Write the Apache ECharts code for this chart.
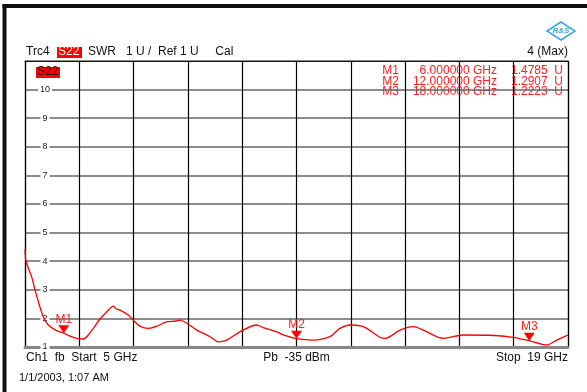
<!DOCTYPE html>
<html><head><meta charset="utf-8">
<script src="https://cdn.jsdelivr.net/npm/echarts@6/dist/echarts.min.js"></script>
<style>html,body{margin:0;padding:0;background:#fff}#c{width:587px;height:392px}</style>
</head><body><div id="c"></div>
<script>
// Trace: frequency (GHz) and SWR (U)
var freqs = [5.00,5.03,5.17,5.26,5.37,5.47,5.60,5.80,6.00,6.16,6.33,6.50,6.68,6.93,7.11,7.28,7.35,7.45,7.66,7.79,7.96,8.18,8.40,8.65,8.87,9.00,9.17,9.43,9.77,9.98,10.20,10.54,10.97,11.14,11.49,11.66,12.00,12.43,12.86,13.12,13.38,13.68,13.81,14.15,14.28,14.67,15.01,15.27,15.78,16.30,16.99,17.59,18.00,18.45,18.71,19.00];
var swr   = [4.42,3.98,3.46,2.99,2.47,2.06,1.77,1.58,1.48,1.38,1.30,1.28,1.50,1.97,2.23,2.43,2.33,2.29,2.12,1.94,1.73,1.65,1.73,1.88,1.90,1.94,1.83,1.59,1.36,1.18,1.24,1.53,1.77,1.68,1.53,1.42,1.29,1.24,1.36,1.65,1.77,1.73,1.65,1.34,1.30,1.59,1.71,1.59,1.30,1.42,1.41,1.34,1.22,1.07,1.24,1.42];
var markerNames  = ['M1','M2','M3'];
var markerFreqs  = [6, 12, 18];
var markerValues = [1.4785, 1.2907, 1.2223];
var xStart = 5, xStop = 19;
var yMin = 1, yMax = 11;
var yTickLabels = ['1','2','3','4','5','6','7','8','9','10'];

var data = freqs.map(function(f,i){return [f, swr[i]];});
var F = 'Liberation Sans, Arial, sans-serif';
var RED = '#ff2020';

var chart = echarts.init(document.getElementById('c'));
var graphics = [
  {type:'rect', shape:{x:2.5,y:4,width:4,height:388}, style:{fill:'#111'}},
  {type:'rect', shape:{x:2.5,y:4,width:585,height:4}, style:{fill:'#111'}},
  {type:'text', left:26, top:46, style:{text:'Trc4', font:'12px '+F, fill:'#111'}},
  {type:'rect', shape:{x:57,y:47,width:25,height:11}, style:{fill:'#ff0000'}},
  {type:'text', left:58, top:46, style:{text:'S22', font:'12px '+F, fill:'#fff'}},
  {type:'text', left:88, top:46, style:{text:'SWR   1 U /  Ref 1 U     Cal', font:'12px '+F, fill:'#111'}},
  {type:'text', right:19, top:46, style:{text:'4 (Max)', font:'12px '+F, fill:'#111'}},
  {type:'rect', shape:{x:36,y:67,width:24,height:11}, style:{fill:'#ff0000'}},
  {type:'text', left:37, top:66, style:{text:'S22', font:'12px '+F, fill:'#300'}},
  {type:'text', left:26, top:352, style:{text:'Ch1  fb  Start  5 GHz', font:'12px '+F, fill:'#111'}},
  {type:'text', x:296.5, y:352, style:{text:'Pb  -35 dBm', font:'12px '+F, fill:'#111', textAlign:'center'}},
  {type:'text', right:19, top:352, style:{text:'Stop  19 GHz', font:'12px '+F, fill:'#111'}},
  {type:'text', left:19, top:372, style:{text:'1/1/2003, 1:07 AM', font:'11px '+F, fill:'#111'}},
  {type:'polygon', shape:{points:[[547,31],[561,22],[575,31],[561,40]]}, style:{fill:'#fff', stroke:'#3aa6e0', lineWidth:1.5}},
  {type:'text', x:561, y:31, style:{text:'R&S', font:'italic bold 8px '+F, fill:'#3aa6e0', textAlign:'center', textVerticalAlign:'middle'}}
];
markerNames.forEach(function(n,i){
  var y = 65 + i*10.5;
  graphics.push({type:'text', x:399, y:y, style:{text:n, font:'12px '+F, fill:RED, textAlign:'right'}});
  graphics.push({type:'text', x:497, y:y, style:{text:markerFreqs[i].toFixed(6)+' GHz', font:'12px '+F, fill:RED, textAlign:'right'}});
  graphics.push({type:'text', x:563, y:y, style:{text:markerValues[i].toFixed(4)+'  U', font:'12px '+F, fill:RED, textAlign:'right'}});
});

chart.setOption({
  animation:false,
  backgroundColor:'#fff',
  grid:{left:25, right:19, top:61, bottom:45, containLabel:false},
  xAxis:[
    {type:'value', min:xStart, max:xStop, show:false},
    {type:'value', min:0, max:10, interval:1, position:'bottom',
     axisLine:{show:true, onZero:false, lineStyle:{color:'#888', width:3, type:[1,1]}},
     axisTick:{show:false}, axisLabel:{show:false},
     splitLine:{show:true, lineStyle:{color:'#000', width:1.2}}},
    {type:'value', min:0, max:10, interval:1, position:'top',
     axisLine:{show:true, onZero:false, lineStyle:{color:'#111', width:1.2}},
     axisTick:{show:false}, axisLabel:{show:false}, splitLine:{show:false}}
  ],
  yAxis:[
    {type:'value', min:yMin, max:yMax, interval:1, position:'left',
     axisLine:{show:true, onZero:false, lineStyle:{color:'#000', width:1.2}},
     axisTick:{show:false},
     axisLabel:{inside:true, margin:20, align:'center', fontSize:9, color:'#222', fontFamily:F,
       backgroundColor:'#fff', padding:[0,2],
       formatter:function(v){var s=String(Math.round(v)); return yTickLabels.indexOf(s)>=0?s:'';}},
     splitLine:{show:true, lineStyle:{color:'#666', width:1.5}}},
    {type:'value', min:yMin, max:yMax, interval:1, position:'right',
     axisLine:{show:true, onZero:false, lineStyle:{color:'#000', width:1.2}},
     axisTick:{show:false}, axisLabel:{show:false}, splitLine:{show:false}}
  ],
  series:[{
    type:'line', xAxisIndex:0, yAxisIndex:0, data:data, symbol:'none', smooth:0.3,
    lineStyle:{color:'#ff0000', width:1.3}, z:5,
    markPoint:{
      symbol:'triangle', symbolRotate:180, symbolSize:[11,8], symbolOffset:[0,'-50%'],
      itemStyle:{color:'#ff0000'},
      label:{show:true, position:'top', distance:0, color:RED, fontSize:12, fontFamily:F,
        formatter:function(p){return p.name;}},
      data: markerNames.map(function(n,i){return {name:n, coord:[markerFreqs[i], markerValues[i]]};})
    }
  }],
  graphic:graphics
});
</script></body></html>
